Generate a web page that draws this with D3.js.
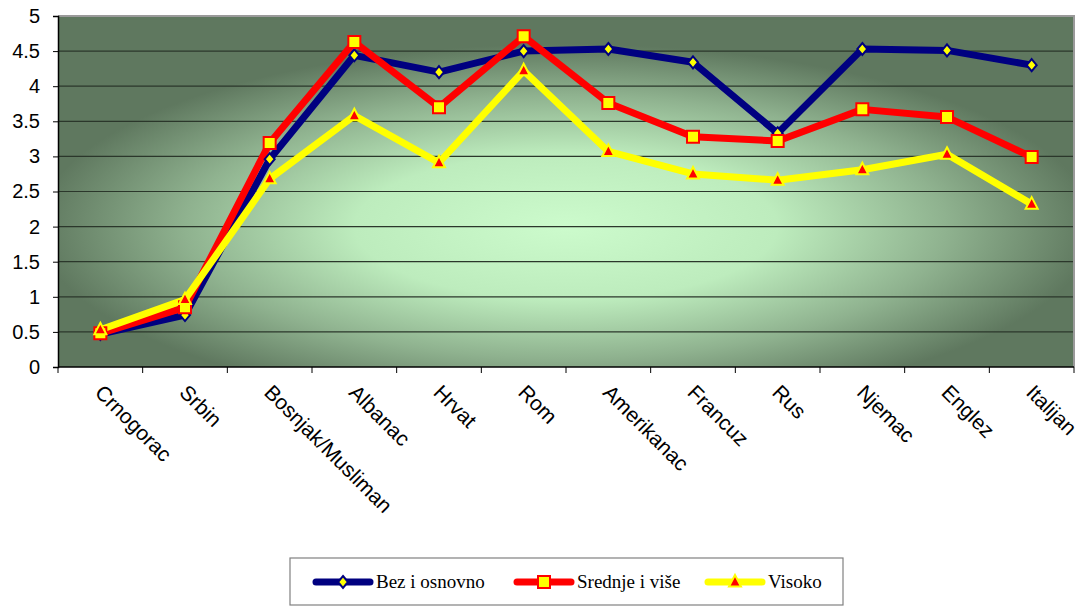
<!DOCTYPE html>
<html>
<head>
<meta charset="utf-8">
<script src="https://cdn.jsdelivr.net/npm/d3@7"></script>
<style>
  body { margin: 0; background: #fff; }
  svg { display: block; }
</style>
</head>
<body>
<script>
var categories = ['Crnogorac', 'Srbin', 'Bosnjak/Musliman', 'Albanac', 'Hrvat', 'Rom',
                  'Amerikanac', 'Francuz', 'Rus', 'Njemac', 'Englez', 'Italijan'];
var bezOsnovno = [0.47, 0.74, 2.96, 4.44, 4.20, 4.50, 4.53, 4.34, 3.33, 4.53, 4.51, 4.30];
var srednjeVise = [0.48, 0.85, 3.19, 4.63, 3.70, 4.71, 3.76, 3.28, 3.22, 3.67, 3.56, 2.99];
var visoko = [0.53, 0.96, 2.68, 3.58, 2.91, 4.22, 3.07, 2.75, 2.66, 2.81, 3.03, 2.32];
var seriesNames = ['Bez i osnovno', 'Srednje i više', 'Visoko'];
var yTicks = [0, 0.5, 1, 1.5, 2, 2.5, 3, 3.5, 4, 4.5, 5];

var margin = {top: 16, right: 10, bottom: 240, left: 58},
    width = 1084 - margin.left - margin.right,
    height = 607 - margin.top - margin.bottom;

var svg = d3.select('body').append('svg')
    .attr('width', 1084)
    .attr('height', 607);

var defs = svg.append('defs');
var grad = defs.append('radialGradient')
    .attr('id', 'bg')
    .attr('cx', 0.5).attr('cy', 0.6).attr('r', 0.52);
grad.append('stop').attr('offset', '0%').attr('stop-color', '#ccfbcc');
grad.append('stop').attr('offset', '40%').attr('stop-color', '#bdecbd');
grad.append('stop').attr('offset', '72%').attr('stop-color', '#8fb28f');
grad.append('stop').attr('offset', '100%').attr('stop-color', '#5f785f');

var g = svg.append('g')
    .attr('transform', 'translate(' + margin.left + ',' + margin.top + ')');

var x = d3.scaleBand().domain(categories).range([0, width]);
var y = d3.scaleLinear().domain([0, 5]).range([height, 0]);

g.append('rect')
    .attr('width', width)
    .attr('height', height)
    .attr('fill', 'url(#bg)');

// gridlines
g.selectAll('.grid')
    .data(yTicks.filter(function(d) { return d > 0 && d < 5; }))
    .enter().append('line')
    .attr('x1', 0).attr('x2', width)
    .attr('y1', function(d) { return y(d); })
    .attr('y2', function(d) { return y(d); })
    .attr('stroke', '#2b372b')
    .attr('stroke-width', 1.2);

// plot border top / right
g.append('path')
    .attr('d', 'M0,' + y(5) + 'H' + width + 'V' + height)
    .attr('fill', 'none')
    .attr('stroke', '#9a9a9a')
    .attr('stroke-width', 2);

// y axis
var yAxis = d3.axisLeft(y).tickValues(yTicks).tickSize(5).tickPadding(13)
    .tickFormat(function(d) { return String(d); });
var yg = g.append('g').call(yAxis);
yg.select('.domain').attr('stroke', '#000').attr('stroke-width', 1.5);
yg.selectAll('text')
    .attr('font-family', 'Arial, "Liberation Sans", sans-serif')
    .attr('font-size', '20px')
    .attr('fill', '#000');

// x axis: ticks at category boundaries
var xg = g.append('g').attr('transform', 'translate(0,' + height + ')');
xg.append('line').attr('x1', 0).attr('x2', width).attr('stroke', '#000').attr('stroke-width', 1.5);
xg.selectAll('.xt')
    .data(categories.concat(['end']))
    .enter().append('line')
    .attr('x1', function(d, i) { return i * x.bandwidth(); })
    .attr('x2', function(d, i) { return i * x.bandwidth(); })
    .attr('y1', 0).attr('y2', 6)
    .attr('stroke', '#000');

xg.selectAll('.xl')
    .data(categories)
    .enter().append('text')
    .attr('transform', function(d) {
      return 'translate(' + (x(d) + x.bandwidth() / 2 + 4) + ',16) rotate(45)';
    })
    .attr('dy', '0.72em')
    .attr('text-anchor', 'start')
    .attr('font-family', 'Arial, "Liberation Sans", sans-serif')
    .attr('font-size', '21px')
    .text(function(d) { return d; });

var series = [
  {name: seriesNames[0], values: bezOsnovno, line: '#000080', marker: 'diamond', mfill: '#ffff00', mstroke: '#000080'},
  {name: seriesNames[1], values: srednjeVise, line: '#ff0000', marker: 'square', mfill: '#ffff00', mstroke: '#ff0000'},
  {name: seriesNames[2], values: visoko, line: '#ffff00', marker: 'triangle', mfill: '#ff0000', mstroke: '#ffff00'}
];

function markerPath(type) {
  if (type === 'diamond') return 'M0,-6L5,0L0,6L-5,0Z';
  if (type === 'square') return 'M-6,-6H6V6H-6Z';
  return 'M0,-7L6,4.5H-6Z';
}

var line = d3.line()
    .x(function(d, i) { return x(categories[i]) + x.bandwidth() / 2; })
    .y(function(d) { return y(d); });

series.forEach(function(s) {
  g.append('path')
    .attr('d', line(s.values))
    .attr('fill', 'none')
    .attr('stroke', s.line)
    .attr('stroke-width', 7)
    .attr('stroke-linejoin', 'round');
});

series.forEach(function(s) {
  g.selectAll(null)
    .data(s.values)
    .enter().append('path')
    .attr('transform', function(d, i) {
      return 'translate(' + (x(categories[i]) + x.bandwidth() / 2) + ',' + y(d) + ')';
    })
    .attr('d', markerPath(s.marker))
    .attr('fill', s.mfill)
    .attr('stroke', s.mstroke)
    .attr('stroke-width', 2);
});

// legend
var legend = svg.append('g').attr('transform', 'translate(290,558)');
legend.append('rect')
    .attr('width', 553).attr('height', 47)
    .attr('fill', '#fff').attr('stroke', '#808080').attr('stroke-width', 1.2);

var legendX = [26, 227, 418];
series.forEach(function(s, i) {
  var row = legend.append('g').attr('transform', 'translate(' + legendX[i] + ',24)');
  row.append('line')
    .attr('x1', 0).attr('x2', 54)
    .attr('stroke', s.line).attr('stroke-width', 7).attr('stroke-linecap', 'round');
  row.append('path')
    .attr('transform', 'translate(27,0)')
    .attr('d', markerPath(s.marker))
    .attr('fill', s.mfill).attr('stroke', s.mstroke).attr('stroke-width', 2);
  row.append('text')
    .attr('x', 60).attr('y', 6)
    .attr('font-family', '"Liberation Serif", "Times New Roman", serif')
    .attr('font-size', '19px')
    .text(s.name);
});
</script>
</body>
</html>
